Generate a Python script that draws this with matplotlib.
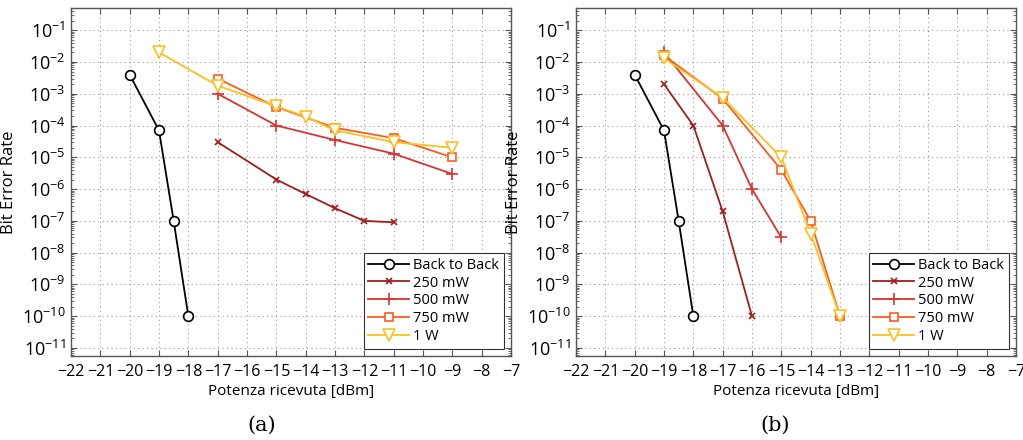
import matplotlib

matplotlib.use("Agg")
import matplotlib.pyplot as plt
from matplotlib.ticker import LogLocator, MultipleLocator, NullFormatter

plt.rcParams["font.family"] = ["Open Sans", "DejaVu Sans"]
plt.rcParams["mathtext.fontset"] = "custom"
plt.rcParams["mathtext.rm"] = "Open Sans"
plt.rcParams["axes.unicode_minus"] = True

# --- dati ---
labels = ["Back to Back", "250 mW", "500 mW", "750 mW", "1 W"]

b2b_x = [-20, -19, -18.5, -18]
b2b_y = [4e-3, 7e-5, 1e-7, 1e-10]

# pannello (a)
a250_x = [-17, -15, -14, -13, -12, -11]
a250_y = [3e-5, 2e-6, 7e-7, 2.5e-7, 1e-7, 9e-8]
a500_x = [-17, -15, -13, -11, -9]
a500_y = [1e-3, 1e-4, 3.5e-5, 1.3e-5, 3e-6]
a750_x = [-17, -15, -13, -11, -9]
a750_y = [3e-3, 3.8e-4, 8.5e-5, 4e-5, 1e-5]
a1w_x = [-19, -17, -15, -14, -13, -11, -9]
a1w_y = [2e-2, 1.8e-3, 4e-4, 1.9e-4, 7e-5, 3e-5, 2e-5]

# pannello (b)
b250_x = [-19, -18, -17, -16]
b250_y = [2e-3, 1e-4, 2e-7, 1e-10]
b500_x = [-19, -17, -16, -15]
b500_y = [2e-2, 1e-4, 1e-6, 3e-8]
b750_x = [-19, -17, -15, -14, -13]
b750_y = [1.6e-2, 7e-4, 4e-6, 1e-7, 1e-10]
b1w_x = [-19, -17, -15, -14, -13]
b1w_y = [1.3e-2, 7.5e-4, 1e-5, 4e-8, 1e-10]

panels = [
    ("(a)", [(b2b_x, b2b_y), (a250_x, a250_y), (a500_x, a500_y),
             (a750_x, a750_y), (a1w_x, a1w_y)]),
    ("(b)", [(b2b_x, b2b_y), (b250_x, b250_y), (b500_x, b500_y),
             (b750_x, b750_y), (b1w_x, b1w_y)]),
]

colors = ["black", "#a31c1c", "#dc3232", "#ff5a1e", "#ffbf1e"]
markers = ["o", "x", "+", "s", "v"]
msizes = [7, 4.5, 8, 6, 8]

fig = plt.figure(figsize=(10.23, 4.4), dpi=100)
lefts = [71 / 1023, 576 / 1023]
captions_x = [262 / 1023, 775 / 1023]

for left, cx, (caption, series) in zip(lefts, captions_x, panels):
    ax = fig.add_axes([left, 0.191, 440 / 1023, 0.791])
    for (x, y), lab, c, m, ms in zip(series, labels, colors, markers, msizes):
        ax.plot(x, y, color=c, marker=m, markersize=ms,
                markerfacecolor="white" if m in "osv" else c,
                markeredgecolor=c, markeredgewidth=1.2,
                linewidth=1.3, label=lab)

    ax.set_yscale("log")
    ax.set_xlim(-22, -7)
    ax.set_ylim(10 ** -11.25, 10 ** -0.3)
    ax.xaxis.set_major_locator(MultipleLocator(1))
    ax.yaxis.set_major_locator(LogLocator(base=10, numticks=20))
    ax.yaxis.set_minor_locator(LogLocator(base=10, subs=range(2, 10), numticks=20))
    ax.yaxis.set_minor_formatter(NullFormatter())
    ax.tick_params(which="both", direction="in", top=True, right=True,
                   color="#555555")
    ax.tick_params(axis="x", labelsize=11.5, pad=6)
    ax.tick_params(axis="y", labelsize=13, pad=4)
    ax.tick_params(which="major", length=4)
    ax.tick_params(which="minor", length=2)
    ax.grid(True, which="major", linestyle=(0, (1, 3)), color="#999999",
            linewidth=0.8)
    for sp in ax.spines.values():
        sp.set_color("#555555")
        sp.set_linewidth(1.0)

    ax.set_xlabel("Potenza ricevuta [dBm]", fontsize=11, labelpad=3)
    ax.set_ylabel("Bit Error Rate", fontsize=12)
    ax.yaxis.set_label_coords(-0.123, 0.5)

    leg = ax.legend(loc="lower right", fontsize=10.5, fancybox=False,
                    framealpha=1, edgecolor="#333333", borderpad=0.3,
                    labelspacing=0.2, handlelength=2.8, handletextpad=0.3,
                    borderaxespad=0.5)
    leg.get_frame().set_linewidth(0.8)

    fig.text(cx, 1 - 425 / 440, caption, ha="center", va="center",
             fontsize=15, family="DejaVu Serif")

fig.savefig("out.png", dpi=100)
